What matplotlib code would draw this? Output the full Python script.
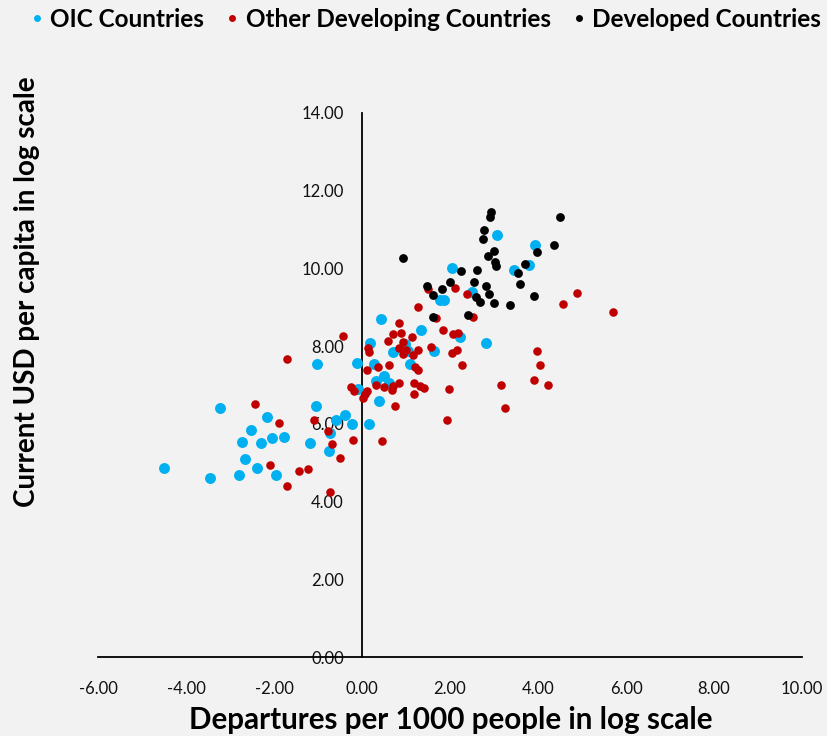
import matplotlib
matplotlib.use("Agg")
from matplotlib import pyplot as plt
from matplotlib.lines import Line2D

plt.rcParams['font.family'] = ['Lato', 'DejaVu Sans']

# departures per 1000 people (log) vs current USD per capita (log)
oic_dep = [-4.51, -3.45, -3.22, -2.79, -2.67, -2.73, -2.52, -2.39, -2.29, -2.15,
           -2.05, -1.95, -1.77, -1.18, -1.04, -1.03, -0.74, -0.73, -0.58, -0.39,
           -0.23, -0.10, -0.12, 0.15, 0.18, 0.28, 0.39, 0.43, 0.49, 0.32,
           0.62, 0.71, 0.98, 1.04, 1.10, 1.33, 1.63, 1.77, 1.86, 2.04,
           2.23, 2.50, 2.81, 3.07, 3.45, 3.80, 3.94]
oic_usd = [4.86, 4.61, 6.42, 4.68, 5.09, 5.53, 5.85, 4.87, 5.51, 6.17,
           5.64, 4.69, 5.67, 5.51, 6.47, 7.55, 5.30, 5.77, 6.11, 6.22,
           6.00, 6.90, 7.56, 6.00, 8.09, 7.53, 6.60, 8.71, 7.22, 7.10,
           7.05, 7.85, 8.05, 7.87, 7.55, 8.42, 7.87, 9.18, 9.18, 10.00,
           8.23, 9.40, 8.09, 10.85, 9.95, 10.08, 10.59]

other_dep = [-2.44, -1.89, -2.08, -1.70, -1.70, -1.44, -1.23, -1.10, -0.77, -0.68,
             -0.50, -0.73, -0.21, -0.43, -0.25, -0.18, 0.03, 0.07, 0.11, 0.11,
             0.13, 0.17, 0.36, 0.32, 0.45, 0.49, 0.60, 0.61, 0.68, 0.71,
             0.83, 0.75, 0.71, 0.89, 0.83, 0.85, 0.93, 0.93, 1.00, 1.13,
             1.15, 1.20, 1.27, 1.27, 1.18, 1.31, 1.40, 1.18, 1.27, 1.49,
             1.69, 1.57, 1.84, 2.06, 2.19, 2.05, 2.15, 2.27, 1.97, 1.93,
             2.11, 2.39, 2.52, 3.17, 3.25, 3.92, 3.97, 4.04, 4.22, 4.56,
             4.88, 5.70]
other_usd = [6.50, 6.02, 4.95, 7.66, 4.40, 4.79, 4.83, 6.11, 5.82, 5.47,
             5.12, 4.25, 5.58, 8.25, 6.94, 6.84, 6.66, 6.76, 6.84, 7.38,
             7.96, 7.84, 7.46, 7.01, 5.55, 6.95, 8.13, 7.52, 6.86, 6.97,
             7.05, 6.45, 8.32, 8.35, 8.59, 7.94, 8.11, 7.81, 7.89, 8.23,
             7.76, 7.46, 7.38, 7.89, 7.04, 6.97, 6.93, 6.78, 9.02, 9.46,
             8.72, 7.99, 8.42, 8.30, 8.33, 7.82, 7.91, 7.51, 6.89, 6.11,
             9.50, 9.35, 8.74, 6.99, 6.42, 7.14, 7.87, 7.51, 6.99, 9.09,
             9.37, 8.88]

developed_dep = [0.93, 1.47, 1.61, 1.81, 1.61, 1.99, 2.26, 2.61, 2.55, 2.82,
                 2.58, 2.68, 2.89, 3.00, 3.36, 2.41, 2.93, 2.91, 2.78, 2.74,
                 3.01, 2.87, 3.02, 3.05, 3.55, 3.71, 3.60, 3.92, 3.98, 4.37,
                 4.50]
developed_usd = [10.27, 9.54, 9.31, 9.46, 8.75, 9.65, 9.93, 9.96, 9.65, 9.55,
                 9.27, 9.14, 9.33, 9.11, 9.05, 8.79, 11.45, 11.32, 10.99, 10.76,
                 10.46, 10.31, 10.16, 10.05, 9.89, 10.12, 9.61, 9.28, 10.43, 10.60,
                 11.32]

series_names = ['OIC Countries', 'Other Developing Countries', 'Developed Countries']
series_colors = ['#00B0F0', '#C00000', '#000000']

x_ticks = [-6, -4, -2, 0, 2, 4, 6, 8, 10]
y_ticks = [0, 2, 4, 6, 8, 10, 12, 14]

bg = '#F2F2F2'
fig = plt.figure(figsize=(8.27, 7.36), dpi=100, facecolor=bg)
ax = fig.add_axes([0.1185, 0.1073, 0.8513, 0.7392], facecolor=bg)

ax.scatter(oic_dep, oic_usd, s=62, color=series_colors[0], linewidths=0, zorder=3)
ax.scatter(other_dep, other_usd, s=38, color=series_colors[1], linewidths=0, zorder=4)
ax.scatter(developed_dep, developed_usd, s=40, color=series_colors[2], linewidths=0, zorder=5)

ax.set_xlim(-6, 10)
ax.set_ylim(0, 14)
ax.set_xticks(x_ticks)
ax.set_yticks(y_ticks)
ax.set_xticklabels(['%.2f' % v for v in x_ticks])
ax.set_yticklabels(['%.2f' % v for v in y_ticks])

# axes cross at the origin, like a spreadsheet chart
ax.spines['left'].set_position(('data', 0))
ax.spines['bottom'].set_position(('data', 0))
ax.spines['top'].set_visible(False)
ax.spines['right'].set_visible(False)
for side in ('left', 'bottom'):
    ax.spines[side].set_linewidth(1.3)
    ax.spines[side].set_zorder(2)

ax.tick_params(axis='x', length=0, pad=17, labelsize=12, labelcolor='#111111')
ax.tick_params(axis='y', length=0, pad=13, labelsize=12, labelcolor='#111111')

fig.text(0.545, 0.022, 'Departures per 1000 people in log scale',
         ha='center', va='center', fontsize=21.3, fontweight='bold')
fig.text(0.033, 0.604, 'Current USD per capita in log scale', rotation=90,
         ha='center', va='center', fontsize=20, fontweight='bold')

handles = [Line2D([], [], marker='o', linestyle='', markersize=5,
                  markerfacecolor=c, markeredgewidth=0) for c in series_colors]
fig.legend(handles, series_names, loc='center', bbox_to_anchor=(0.515, 0.974),
           ncol=3, frameon=False, handlelength=0.5, handletextpad=0.3,
           columnspacing=0.9, borderpad=0, borderaxespad=0,
           prop={'size': 17.5, 'weight': 'bold'})

fig.savefig('out.png', dpi=100, facecolor=bg)
